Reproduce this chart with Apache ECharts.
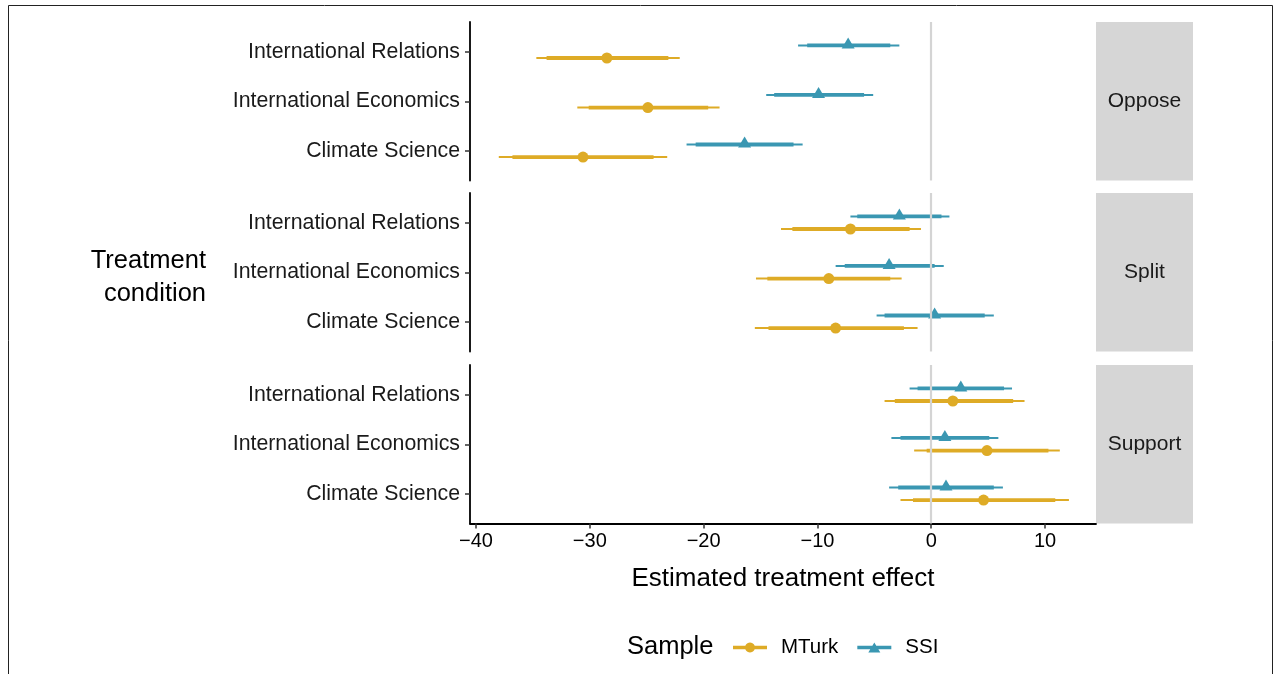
<!DOCTYPE html>
<html>
<head>
<meta charset="utf-8">
<title>Estimated treatment effect</title>
<script src="https://cdn.jsdelivr.net/npm/echarts@6/dist/echarts.min.js"></script>
<style>
  html, body { margin: 0; padding: 0; background: #fff; }
  #main { width: 1273px; height: 674px; }
</style>
</head>
<body>
<div id="main"></div>
<script>
// categories, top to bottom inside each panel
var categories = ['International Relations', 'International Economics', 'Climate Science'];
var panels = ['Oppose', 'Split', 'Support'];
var xTicks = [-40, -30, -20, -10, 0, 10];

// MTurk: [panel][category]
var mturkEst  = [[-28.5, -24.9, -30.6], [-7.1, -9.0, -8.4], [1.9, 4.9, 4.6]];
var mturkLo95 = [[-34.7, -31.1, -38.0], [-13.2, -15.4, -15.5], [-4.1, -1.5, -2.7]];
var mturkHi95 = [[-22.1, -18.6, -23.2], [-0.9, -2.6, -1.2], [8.2, 11.3, 12.1]];
var mturkLo90 = [[-33.8, -30.1, -36.8], [-12.2, -14.4, -14.3], [-3.2, -0.4, -1.6]];
var mturkHi90 = [[-23.1, -19.6, -24.4], [-1.9, -3.6, -2.4], [7.2, 10.3, 10.9]];

// SSI: [panel][category]
var ssiEst  = [[-7.3, -9.9, -16.4], [-2.8, -3.7, 0.3], [2.6, 1.2, 1.3]];
var ssiLo95 = [[-11.7, -14.5, -21.5], [-7.1, -8.4, -4.8], [-1.9, -3.5, -3.7]];
var ssiHi95 = [[-2.8, -5.1, -11.3], [1.6, 1.1, 5.5], [7.1, 5.9, 6.3]];
var ssiLo90 = [[-10.9, -13.8, -20.7], [-6.5, -7.6, -4.1], [-1.2, -2.7, -2.9]];
var ssiHi90 = [[-3.6, -5.9, -12.1], [0.9, 0.3, 4.7], [6.4, 5.1, 5.5]];

var myChart = echarts.init(document.getElementById('main'));

var FONT = '"Liberation Sans", Arial, Helvetica, sans-serif';
var XMIN = -40.53, XMAX = 14.48;
var DODGE = 0.127;
var gridLeft = 470, gridWidth = 626;
var panelTops = [22, 193, 365];
var panelHeight = 158.5;

var samples = [
  { name: 'MTurk', color: '#DEAB26', symbol: 'circle', size: 11, shift: -DODGE,
    est: mturkEst, lo95: mturkLo95, hi95: mturkHi95, lo90: mturkLo90, hi90: mturkHi90 },
  { name: 'SSI', color: '#3A97B2', symbol: 'triangle', size: [13, 11], shift: DODGE,
    est: ssiEst, lo95: ssiLo95, hi95: ssiHi95, lo90: ssiLo90, hi90: ssiHi90 }
];

// value position of a category (top category gets the highest value)
function catY (i) {
  return categories.length - i;
}

function renderCI (params, api) {
  var y = api.value(0);
  var a = api.coord([api.value(1), y]);
  var b = api.coord([api.value(2), y]);
  var c = api.coord([api.value(3), y]);
  var d = api.coord([api.value(4), y]);
  var color = api.visual('color');
  return {
    type: 'group',
    children: [
      { type: 'line', shape: { x1: a[0], y1: a[1], x2: b[0], y2: b[1] }, style: { stroke: color, lineWidth: 2 } },
      { type: 'line', shape: { x1: c[0], y1: c[1], x2: d[0], y2: d[1] }, style: { stroke: color, lineWidth: 3.8 } }
    ]
  };
}

//图例图标：横线加圆点 / 三角
function circleIcon () {
  var d = 'path://M0,3.3L34,3.3L34,6.7L0,6.7Z';
  for (var k = 0; k < 24; k++) {
    var t = k / 24 * Math.PI * 2;
    d += (k == 0 ? 'M' : 'L') + (17 + 5 * Math.cos(t)).toFixed(2) + ',' + (5 + 5 * Math.sin(t)).toFixed(2);
  }
  return d + 'Z';
}
var triangleIcon = 'path://M0,3.3L34,3.3L34,6.7L0,6.7ZM17,0L23,10L11,10Z';

var grids = [], xAxes = [], yAxes = [], series = [], graphics = [];

for (var p = 0; p < panels.length; p++) {
  var last = (p == panels.length - 1);
  grids.push({ left: gridLeft, top: panelTops[p], width: gridWidth, height: panelHeight });

  xAxes.push({
    gridIndex: p,
    type: 'value',
    min: XMIN,
    max: XMAX,
    name: last ? 'Estimated treatment effect' : '',
    nameLocation: 'middle',
    nameGap: 42,
    nameTextStyle: { fontFamily: FONT, fontSize: 26, color: '#000' },
    axisLine: { show: last, onZero: false, lineStyle: { color: '#000', width: 1.8 } },
    axisTick: { show: last, customValues: xTicks, length: 5, lineStyle: { color: '#333', width: 1.5 } },
    axisLabel: {
      show: last,
      customValues: xTicks,
      margin: 8,
      fontFamily: FONT,
      fontSize: 20,
      color: '#000',
      formatter: function (v) { return String(v).replace('-', '\u2212'); }
    },
    splitLine: { show: false }
  });

  yAxes.push({
    gridIndex: p,
    type: 'value',
    min: 0.4,
    max: 3.6,
    axisLine: { show: true, onZero: false, lineStyle: { color: '#000', width: 1.8 } },
    axisTick: { show: true, customValues: [1, 2, 3], length: 5, lineStyle: { color: '#333', width: 1.5 } },
    axisLabel: {
      customValues: [1, 2, 3],
      margin: 10,
      fontFamily: FONT,
      fontSize: 21.3,
      color: '#1a1a1a',
      formatter: function (v) { return categories[categories.length - Math.round(v)]; }
    },
    splitLine: { show: false }
  });

  // zero reference line
  series.push({
    type: 'scatter',
    xAxisIndex: p,
    yAxisIndex: p,
    data: [],
    silent: true,
    z: 1,
    markLine: {
      silent: true,
      symbol: ['none', 'none'],
      label: { show: false },
      lineStyle: { color: '#d4d4d4', width: 2.2, type: 'solid' },
      data: [{ xAxis: 0 }]
    }
  });

  for (var s = 0; s < samples.length; s++) {
    var sm = samples[s];
    var ciData = [], ptData = [];
    for (var i = 0; i < categories.length; i++) {
      var y = catY(i) + sm.shift;
      ciData.push([y, sm.lo95[p][i], sm.hi95[p][i], sm.lo90[p][i], sm.hi90[p][i]]);
      ptData.push([sm.est[p][i], y]);
    }
    series.push({
      name: sm.name,
      type: 'custom',
      xAxisIndex: p,
      yAxisIndex: p,
      z: 2,
      itemStyle: { color: sm.color },
      renderItem: renderCI,
      encode: { x: [1, 2, 3, 4], y: 0 },
      data: ciData
    });
    series.push({
      name: sm.name,
      type: 'scatter',
      xAxisIndex: p,
      yAxisIndex: p,
      z: 3,
      symbol: sm.symbol,
      symbolSize: sm.size,
      symbolOffset: sm.symbol == 'triangle' ? [0, -2.5] : [0, 0],
      itemStyle: { color: sm.color, opacity: 1 },
      data: ptData
    });
  }

  // facet strip
  graphics.push({
    type: 'rect',
    shape: { x: 1096, y: panelTops[p], width: 97, height: panelHeight },
    style: { fill: '#d6d6d6' }
  });
  graphics.push({
    type: 'text',
    x: 1144.5,
    y: panelTops[p] + panelHeight / 2,
    style: { text: panels[p], fontFamily: FONT, fontSize: 21, fill: '#1a1a1a', align: 'center', verticalAlign: 'middle' }
  });
}

// outer frame
graphics.push({
  type: 'rect',
  shape: { x: 8.5, y: 5.5, width: 1264, height: 700 },
  style: { fill: 'none', stroke: '#222', lineWidth: 1 }
});
// y axis title
graphics.push({
  type: 'text',
  x: 206,
  y: 277,
  style: { text: 'Treatment\ncondition', fontFamily: FONT, fontSize: 25.5, lineHeight: 33, fill: '#000', align: 'right', verticalAlign: 'middle' }
});
// legend title
graphics.push({
  type: 'text',
  x: 627,
  y: 647,
  style: { text: 'Sample', fontFamily: FONT, fontSize: 25.5, fill: '#000', align: 'left', verticalAlign: 'middle' }
});

var option = {
  animation: false,
  backgroundColor: '#fff',
  grid: grids,
  xAxis: xAxes,
  yAxis: yAxes,
  legend: {
    left: 733,
    top: 637,
    padding: 0,
    itemWidth: 34,
    itemHeight: 10,
    itemGap: 19,
    textStyle: { fontFamily: FONT, fontSize: 20.5, color: '#000', padding: [0, 0, 0, 9] },
    data: [
      { name: 'MTurk', icon: circleIcon() },
      { name: 'SSI', icon: triangleIcon }
    ]
  },
  graphic: graphics,
  series: series
};

myChart.setOption(option);
window.addEventListener('resize', function () {
  myChart.resize();
});
</script>
</body>
</html>
